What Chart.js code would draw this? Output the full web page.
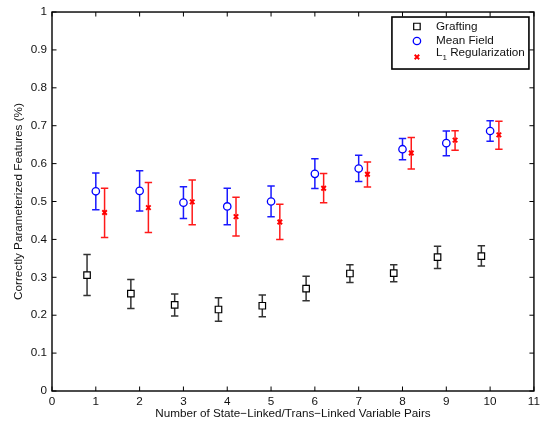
<!DOCTYPE html>
<html><head><meta charset="utf-8">
<script src="https://cdn.jsdelivr.net/npm/chart.js@4/dist/chart.umd.min.js"></script>
<style>html,body{margin:0;padding:0;background:#fff}canvas{display:block}</style>
</head><body>
<canvas id="c" width="544" height="426"></canvas>
<script>
// ---- data ----
const seriesNames = ['Grafting', 'Mean Field', 'L\u2081 Regularization'];

const xGrafting  = [0.8, 1.8, 2.8, 3.8, 4.8, 5.8, 6.8, 7.8, 8.8, 9.8];
const xMeanField = [1, 2, 3, 4, 5, 6, 7, 8, 9, 10];
const xL1        = [1.2, 2.2, 3.2, 4.2, 5.2, 6.2, 7.2, 8.2, 9.2, 10.2];

const grafting     = [0.306, 0.257, 0.227, 0.215, 0.225, 0.270, 0.310, 0.311, 0.353, 0.356];
const graftingLow  = [0.252, 0.218, 0.198, 0.184, 0.196, 0.238, 0.286, 0.288, 0.323, 0.330];
const graftingHigh = [0.360, 0.294, 0.256, 0.246, 0.253, 0.303, 0.333, 0.333, 0.382, 0.383];

const meanField     = [0.527, 0.528, 0.497, 0.487, 0.500, 0.573, 0.587, 0.638, 0.654, 0.686];
const meanFieldLow  = [0.478, 0.475, 0.455, 0.439, 0.460, 0.534, 0.553, 0.610, 0.621, 0.659];
const meanFieldHigh = [0.575, 0.581, 0.539, 0.535, 0.541, 0.613, 0.622, 0.666, 0.686, 0.713];

const l1     = [0.471, 0.484, 0.499, 0.460, 0.446, 0.535, 0.572, 0.628, 0.662, 0.676];
const l1Low  = [0.405, 0.418, 0.439, 0.409, 0.400, 0.497, 0.538, 0.586, 0.635, 0.638];
const l1High = [0.535, 0.550, 0.557, 0.511, 0.493, 0.574, 0.604, 0.669, 0.687, 0.712];

const xTickValues = [0, 1, 2, 3, 4, 5, 6, 7, 8, 9, 10, 11];
const xTickLabels = ['0', '1', '2', '3', '4', '5', '6', '7', '8', '9', '10', '11'];
const yTickValues = [0, 0.1, 0.2, 0.3, 0.4, 0.5, 0.6, 0.7, 0.8, 0.9, 1];
const yTickLabels = ['0', '0.1', '0.2', '0.3', '0.4', '0.5', '0.6', '0.7', '0.8', '0.9', '1'];

const xTitle = 'Number of State\u2212Linked/Trans\u2212Linked Variable Pairs';
const yTitle = 'Correctly Parameterized Features (%)';

// ---- chart ----
const FONT = "'Liberation Sans', Arial, Helvetica, sans-serif";
const FS = 11.7;
Chart.defaults.font.family = FONT;
Chart.defaults.font.size = FS;
Chart.defaults.color = '#111';

const toPoints = (xs, ys) => xs.map((x, i) => ({x: x, y: ys[i]}));

const errorBarPlugin = {
  id: 'errorBars',
  beforeDatasetsDraw(chart) {
    const ctx = chart.ctx, xs = chart.scales.x, ys = chart.scales.y;
    const cap = 3.7;
    chart.data.datasets.forEach((ds) => {
      ctx.save();
      ctx.strokeStyle = ds.errColor;
      ctx.lineWidth = 1.5;
      ds.data.forEach((p, i) => {
        const px = xs.getPixelForValue(p.x);
        const yl = ys.getPixelForValue(ds.errLow[i]);
        const yh = ys.getPixelForValue(ds.errHigh[i]);
        ctx.beginPath();
        ctx.moveTo(px, yl); ctx.lineTo(px, yh);
        ctx.moveTo(px - cap, yl); ctx.lineTo(px + cap, yl);
        ctx.moveTo(px - cap, yh); ctx.lineTo(px + cap, yh);
        ctx.stroke();
      });
      ctx.restore();
    });
  }
};

function drawMarker(ctx, ds, x, y) {
  ctx.save();
  ctx.strokeStyle = ds.borderColor;
  ctx.fillStyle = ds.backgroundColor;
  ctx.lineWidth = ds.borderWidth;
  Chart.helpers.drawPoint(ctx, {pointStyle: ds.pointStyle, radius: ds.pointRadius, rotation: 0, borderWidth: ds.borderWidth}, x, y);
  ctx.restore();
}

const framePlugin = {
  id: 'frameAndLegend',
  afterDatasetsDraw(chart) {
    const ctx = chart.ctx, a = chart.chartArea;
    const xs = chart.scales.x, ys = chart.scales.y;
    const tl = 4.5;
    ctx.save();
    ctx.strokeStyle = '#000';
    ctx.lineWidth = 1.4;
    ctx.strokeRect(a.left, a.top, a.right - a.left, a.bottom - a.top);
    ctx.lineWidth = 1;
    ctx.beginPath();
    xTickValues.forEach(v => {
      const px = xs.getPixelForValue(v);
      ctx.moveTo(px, a.bottom); ctx.lineTo(px, a.bottom - tl);
      ctx.moveTo(px, a.top); ctx.lineTo(px, a.top + tl);
    });
    yTickValues.forEach(v => {
      const py = ys.getPixelForValue(v);
      ctx.moveTo(a.left, py); ctx.lineTo(a.left + tl, py);
      ctx.moveTo(a.right, py); ctx.lineTo(a.right - tl, py);
    });
    ctx.stroke();

    // legend box
    const bw = 137, bh = 52;
    const bx = a.right - 5 - bw, by = a.top + 5;
    ctx.fillStyle = '#fff';
    ctx.fillRect(bx, by, bw, bh);
    ctx.lineWidth = 1.6;
    ctx.strokeRect(bx, by, bw, bh);

    const rows = [9.5, 24, 36];
    const markerDy = [0, 0, 4];
    ctx.textBaseline = 'middle';
    ctx.textAlign = 'left';
    chart.data.datasets.forEach((ds, i) => {
      const ty = by + rows[i];
      drawMarker(ctx, ds, bx + 25, ty + markerDy[i]);
      const label = ds.label;
      const tx = bx + 44;
      const k = label.indexOf('\u2081');
      ctx.fillStyle = '#111';
      if (k < 0) {
        ctx.font = FS + 'px ' + FONT;
        ctx.fillText(label, tx, ty);
      } else {
        const pre = label.slice(0, k), post = label.slice(k + 1);
        ctx.font = FS + 'px ' + FONT;
        ctx.fillText(pre, tx, ty);
        const w1 = ctx.measureText(pre).width;
        ctx.font = '8px ' + FONT;
        ctx.fillText('1', tx + w1, ty + 5);
        const w2 = ctx.measureText('1').width;
        ctx.font = FS + 'px ' + FONT;
        ctx.fillText(post, tx + w1 + w2, ty);
      }
    });
    ctx.restore();
  }
};

new Chart(document.getElementById('c'), {
  type: 'scatter',
  data: {
    datasets: [
      {label: seriesNames[0], data: toPoints(xGrafting, grafting), errLow: graftingLow, errHigh: graftingHigh,
       errColor: '#333', pointStyle: 'rect', pointRadius: 4.6, borderWidth: 1.2,
       borderColor: '#000', backgroundColor: '#fff'},
      {label: seriesNames[1], data: toPoints(xMeanField, meanField), errLow: meanFieldLow, errHigh: meanFieldHigh,
       errColor: '#1a1aff', pointStyle: 'circle', pointRadius: 3.7, borderWidth: 1.3,
       borderColor: '#0000ff', backgroundColor: '#fff'},
      {label: seriesNames[2], data: toPoints(xL1, l1), errLow: l1Low, errHigh: l1High,
       errColor: '#ff1a1a', pointStyle: 'crossRot', pointRadius: 3.2, borderWidth: 1.9,
       borderColor: '#ff0000', backgroundColor: '#ff0000'}
    ]
  },
  options: {
    responsive: false,
    animation: false,
    devicePixelRatio: 1,
    layout: {padding: {left: 0, right: 9, top: 10, bottom: 0}},
    plugins: {legend: {display: false}, tooltip: {enabled: false}},
    elements: {point: {hoverRadius: 4}},
    scales: {
      x: {
        type: 'linear', min: 0, max: 11,
        grid: {display: false, drawTicks: false},
        border: {display: false},
        afterBuildTicks: s => { s.ticks = xTickValues.map(v => ({value: v})); },
        afterFit: s => { s.height = 35; },
        ticks: {padding: 4, maxRotation: 0, autoSkip: false,
                callback: (v) => xTickLabels[xTickValues.indexOf(v)]},
        title: {display: true, text: xTitle, padding: {top: 0, bottom: 5.5}}
      },
      y: {
        type: 'linear', min: 0, max: 1,
        grid: {display: false, drawTicks: false},
        border: {display: false},
        afterBuildTicks: s => { s.ticks = yTickValues.map(v => ({value: v})); },
        afterFit: s => { s.width = 52; },
        ticks: {padding: 5, autoSkip: false,
                callback: (v) => { const i = yTickValues.findIndex(t => Math.abs(t - v) < 1e-9); return yTickLabels[i]; }},
        title: {display: true, text: yTitle, padding: {top: 11.5, bottom: 0}}
      }
    }
  },
  plugins: [errorBarPlugin, framePlugin]
});
</script>
</body></html>
